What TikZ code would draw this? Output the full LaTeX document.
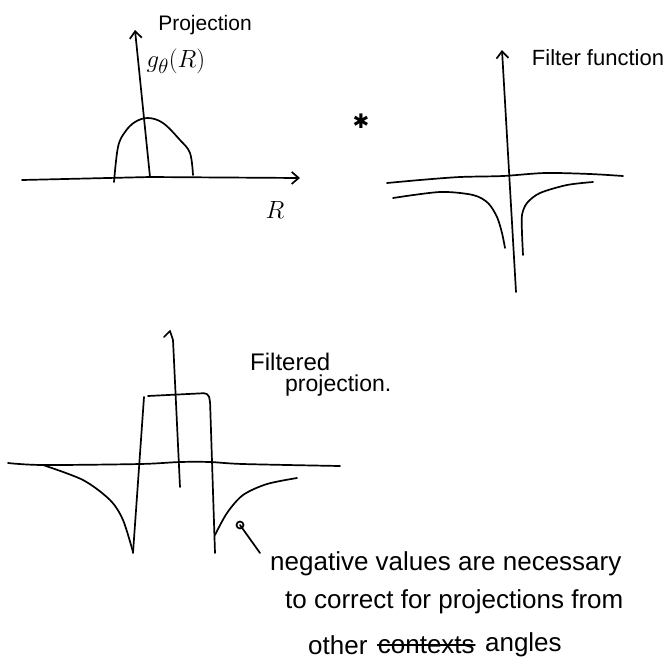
\documentclass[tikz,border=0pt]{standalone}
\usepackage{fontspec}
\setmainfont{Liberation Sans}
\newfontfamily\symfont{DejaVu Sans}
\usetikzlibrary{arrows.meta,positioning}

\begin{document}
\begin{tikzpicture}[
    x=1pt, y=-1pt,
    >={Straight Barb[length=7pt,width=12pt]},
    pen/.style={line width=1.7pt, line cap=round, line join=round},
    axis/.style={pen, ->},
    lab/.style={inner sep=0pt, font=\fontsize{21}{24}\selectfont},
    note/.style={inner sep=0pt, anchor=west, font=\fontsize{26}{30}\selectfont}
]
\useasboundingbox (0,0) rectangle (666,665);

\node[lab] (projlab) at (205,25) {Projection};
\node[lab, font=\fontsize{28}{30}\selectfont] (glab) at (176,61) {$g_\theta(R)$};
\node[lab, font=\fontsize{24}{26}\selectfont] (rlab) at (275,210) {$R$};
\node[inner sep=0pt, font=\symfont\fontsize{20}{20}\selectfont] (conv) at (361,121) {✱};
\node[lab, font=\fontsize{22}{24}\selectfont] (filtlab) at (598,58) {Filter function};
\node[lab, anchor=west, font=\fontsize{24}{26}\selectfont] (fplab1) at (250,362) {Filtered};
\node[lab, anchor=west, font=\fontsize{23}{26}\selectfont] (fplab2) at (285,386) {projection.};
\node[note] (note1) at (270,564) {negative values are necessary};
\node[note] (note2) at (285,602) {to correct for projections from};
\node[note] (note3) at (308,645) {other};
\node[note, right=10pt of note3] (struck) {contexts};
\node[note, right=10pt of struck] (note4) {angles};
\draw[pen] (struck.west) -- (struck.east);

\draw[axis] (22,180) -- (150,177) -- (300,178);
\draw[axis] (150,177) -- (135,30);
\draw[pen] plot[smooth, tension=0.6] coordinates {(114,182) (118,147) (125,132) (135,122) (148,118) (163,123) (180,140) (190,153) (193,175)};

\draw[pen] plot[smooth] coordinates {(387,183) (420,180) (460,177) (503,176) (545,173) (590,174) (623,176)};
\draw[axis] (516,292) -- (502,50);
\draw[pen] plot[smooth] coordinates {(393,198) (440,192) (473,195) (488,203) (497,217) (502,233) (505,248)};
\draw[pen] plot[smooth] coordinates {(523,255) (522,233) (522,215) (527,203) (540,193) (567,185) (593,182)};

\draw[pen] plot[smooth] coordinates {(8,463) (43,465) (140,464) (180,462) (210,462) (243,464) (340,466)};
\draw[pen] (164,337) -- (170,331) -- (173,340) -- (180,487);
\draw[pen] (133,553) -- (144,397);
\draw[pen, rounded corners=4pt] (148,396) -- (208,393) -- (210,400) -- (215,553);
\draw[pen] plot[smooth] coordinates {(43,465) (83,480) (110,500) (123,520) (133,552)};
\draw[pen] plot[smooth] coordinates {(215,535) (227,513) (243,495) (267,484) (297,478)};

\coordinate (tip) at (240,525);
\coordinate (tail) at (260,553);
\draw[pen] (tip) circle (3.5pt);
\draw[pen] (tip) -- (tail);

\end{tikzpicture}
\end{document}
